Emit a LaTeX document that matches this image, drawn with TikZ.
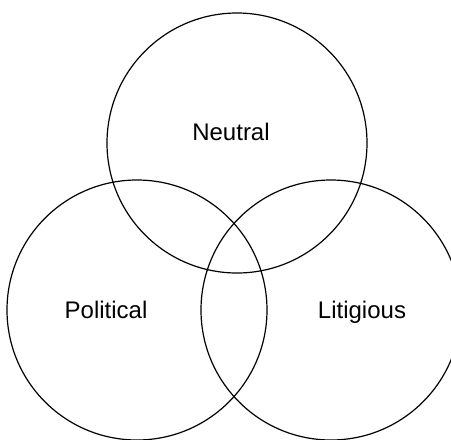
\documentclass[tikz,border=0pt]{standalone}
\usepackage{fontspec}
\setmainfont{Liberation Sans}
\begin{document}
\begin{tikzpicture}[x=1pt, y=-1pt,
    set/.style={circle, draw, line width=1.2pt, minimum size=260pt, inner sep=0pt},
    setname/.style={font=\fontsize{24}{24}\selectfont, inner sep=0pt, anchor=base}]
    \useasboundingbox (0,0) rectangle (451,440);
    \clip (0,0) rectangle (451,440);
    \node [set] (neutral) at (237,143) {};
    \node [set] (political) at (137,310) {};
    \node [set] (litigious) at (331,310) {};
    \node [setname] (neutralname) at (231,140) {Neutral};
    \node [setname] (politicalname) at (106,318) {Political};
    \node [setname] (litigiousname) at (362,318) {Litigious};
\end{tikzpicture}
\end{document}
